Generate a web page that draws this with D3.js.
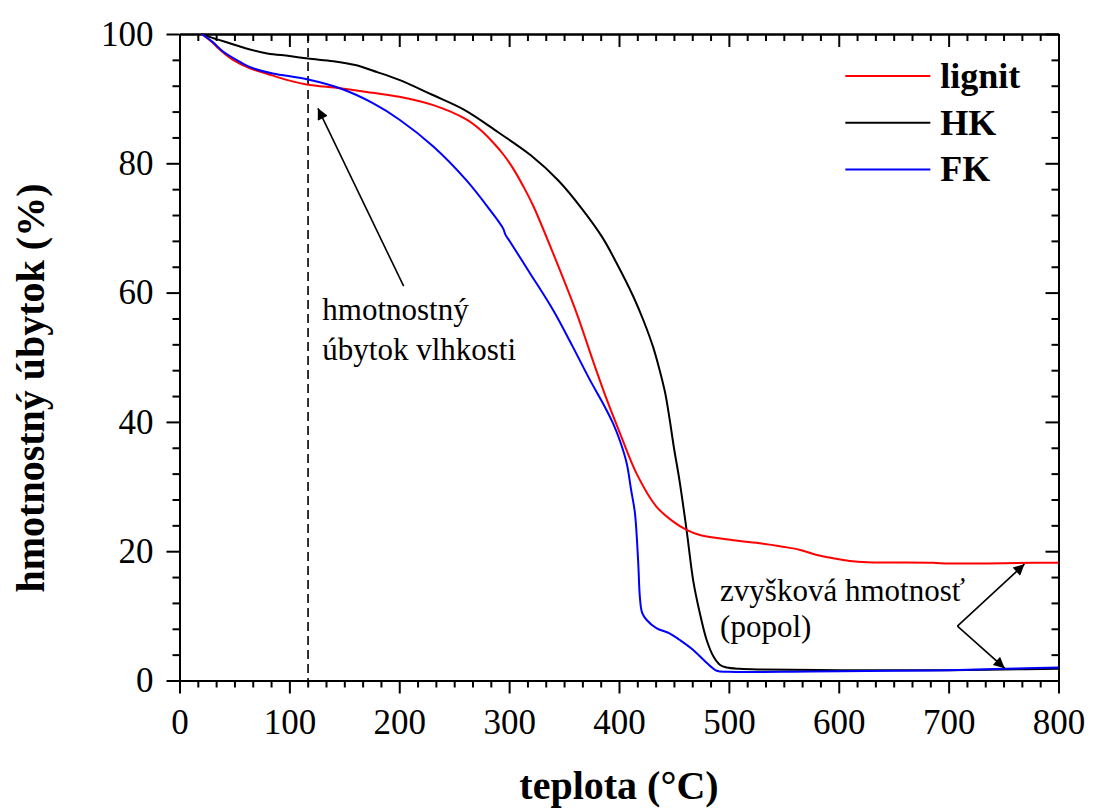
<!DOCTYPE html>
<html lang="sk">
<head>
  <meta charset="UTF-8">
  <title>TGA - hmotnostný úbytok</title>
  <script src="https://d3js.org/d3.v7.min.js"></script>
  <style>
    body {
      margin: 0;
      background-color: #ffffff;
      font-family: "Liberation Serif", "Times New Roman", serif;
    }
    .axis path,
    .axis line {
      stroke: #000;
      stroke-width: 2px;
    }
    .axis text {
      font-family: "Liberation Serif", "Times New Roman", serif;
      font-size: 35px;
      fill: #000;
    }
    .axis-label {
      font-family: "Liberation Serif", "Times New Roman", serif;
      font-size: 40px;
      font-weight: bold;
    }
    .legend-text {
      font-family: "Liberation Serif", "Times New Roman", serif;
      font-size: 36px;
      font-weight: bold;
    }
    .note {
      font-family: "Liberation Serif", "Times New Roman", serif;
      font-size: 31px;
    }
  </style>
</head>
<body>
  <svg width="1094" height="812"></svg>
  <script>
    // Data (temperature °C, mass %)
    const hkTemp = [20, 30, 45, 60, 80, 100, 117, 140, 160, 180, 200, 230, 260, 290, 320, 345, 367, 385, 398, 413, 422, 431, 437, 442, 446, 450, 455, 461.5, 467.5, 473.6, 479.7, 486, 492, 498, 510, 528, 600, 700, 750, 800];
    const hkMass = [100, 99.4, 98.6, 97.8, 97.0, 96.6, 96.2, 95.8, 95.2, 94.1, 92.9, 90.6, 88.2, 84.8, 81.2, 77.3, 72.8, 68.5, 64.5, 59.4, 55.8, 51.6, 48, 44.5, 40.5, 36, 31, 23.3, 15.5, 10.4, 6.3, 3.7, 2.4, 2.0, 1.8, 1.7, 1.6, 1.6, 1.7, 1.8];

    const lignitTemp = [20, 30, 34, 48.7, 64, 79, 97.5, 115.7, 146, 176, 200, 231, 261, 273, 285, 294.6, 304, 313, 322, 340, 361.5, 376, 389, 401, 416, 434, 450, 461.5, 473.6, 504, 530, 549, 565, 580, 595, 610, 626, 686, 700, 777, 800];
    const lignitMass = [100, 98.7, 98.0, 96.0, 94.7, 93.9, 92.9, 92.2, 91.6, 90.9, 90.3, 89.0, 86.8, 85.3, 83.3, 81.4, 79.1, 76.4, 73.4, 66.1, 56.8, 49.6, 43.4, 38.2, 32.0, 26.9, 24.5, 23.3, 22.5, 21.7, 21.2, 20.7, 20.2, 19.4, 18.9, 18.5, 18.3, 18.2, 18.1, 18.2, 18.2];

    const fkTemp = [20, 30, 39.6, 55, 67, 85, 116, 146, 176, 200.6, 231, 261, 282.5, 294.6, 296.5, 300.7, 319, 340, 358, 373.5, 385, 394.5, 401, 407, 411, 414.5, 417.5, 419, 421, 425, 434, 446, 455, 467, 480, 489, 500, 574, 650, 700, 750, 800];
    const fkMass = [100, 98.8, 97.3, 95.7, 94.7, 93.9, 93.0, 91.6, 89.3, 86.7, 82.6, 77.4, 72.8, 69.9, 69.0, 67.9, 63.0, 57.3, 51.6, 46.5, 43.0, 39.8, 37.0, 33.6, 29.5, 25.9, 18.2, 12.9, 10.5, 9.4, 8.1, 7.3, 6.3, 4.8, 2.7, 1.5, 1.35, 1.4, 1.5, 1.6, 1.8, 2.0];

    const seriesNames = ["lignit", "HK", "FK"];
    const seriesColors = ["#ff0000", "#000000", "#0000ff"];

    const xTicks = [0, 100, 200, 300, 400, 500, 600, 700, 800];
    const yTicks = [0, 20, 40, 60, 80, 100];

    const moistureTemp = 117;

    // Layout
    const margin = { top: 34, right: 35.5, bottom: 131.5, left: 179.5 };
    const W = 1094, H = 812;
    const width = W - margin.left - margin.right;
    const height = H - margin.top - margin.bottom;

    const svg = d3.select("svg");

    const defs = svg.append("defs");
    defs.append("marker")
      .attr("id", "arrow")
      .attr("viewBox", "0 0 10 10")
      .attr("refX", 10)
      .attr("refY", 5)
      .attr("markerWidth", 17)
      .attr("markerHeight", 11)
      .attr("markerUnits", "userSpaceOnUse")
      .attr("orient", "auto")
      .append("path")
      .attr("d", "M0,0 L10,5 L0,10 z")
      .attr("fill", "#000");

    const chart = svg.append("g")
      .attr("transform", `translate(${margin.left},${margin.top})`);

    const x = d3.scaleLinear().domain([0, 800]).range([0, width]);
    const y = d3.scaleLinear().domain([0, 100]).range([height, 0]);

    // minor tick positions (5 between x majors, 4 between y majors)
    const xMinor = d3.range(0, 49).map(i => i * 100 / 6).filter((v, i) => i % 6 !== 0);
    const yMinor = d3.range(0, 26).map(i => i * 4).filter(v => v % 20 !== 0);

    // Bottom axis
    chart.append("g")
      .attr("class", "axis")
      .attr("transform", `translate(0,${height})`)
      .call(d3.axisBottom(x).tickValues(xMinor).tickSize(7).tickSizeOuter(0).tickFormat(""));
    chart.append("g")
      .attr("class", "axis")
      .attr("transform", `translate(0,${height})`)
      .call(d3.axisBottom(x).tickValues(xTicks).tickSize(13).tickSizeOuter(0).tickPadding(16).tickFormat(d3.format("d")));

    // Top axis (ticks inside)
    chart.append("g")
      .attr("class", "axis")
      .call(d3.axisTop(x).tickValues(xMinor).tickSize(-7).tickSizeOuter(0).tickFormat(""));
    chart.append("g")
      .attr("class", "axis")
      .call(d3.axisTop(x).tickValues(xTicks).tickSize(-13).tickSizeOuter(0).tickFormat(""));

    // Left axis
    chart.append("g")
      .attr("class", "axis")
      .call(d3.axisLeft(y).tickValues(yMinor).tickSize(7).tickSizeOuter(0).tickFormat(""));
    chart.append("g")
      .attr("class", "axis")
      .call(d3.axisLeft(y).tickValues(yTicks).tickSize(13).tickSizeOuter(0).tickPadding(13).tickFormat(d3.format("d")));

    // Right axis (ticks inside)
    chart.append("g")
      .attr("class", "axis")
      .attr("transform", `translate(${width},0)`)
      .call(d3.axisRight(y).tickValues(yMinor).tickSize(-7).tickSizeOuter(0).tickFormat(""));
    chart.append("g")
      .attr("class", "axis")
      .attr("transform", `translate(${width},0)`)
      .call(d3.axisRight(y).tickValues(yTicks).tickSize(-13).tickSizeOuter(0).tickFormat(""));

    // Dashed moisture line
    chart.append("line")
      .attr("x1", x(moistureTemp)).attr("x2", x(moistureTemp))
      .attr("y1", y(100)).attr("y2", y(0))
      .attr("stroke", "#000")
      .attr("stroke-width", 1.6)
      .attr("stroke-dasharray", "9,5");

    // Curves
    const series = [
      { name: seriesNames[0], color: seriesColors[0], t: lignitTemp, m: lignitMass },
      { name: seriesNames[1], color: seriesColors[1], t: hkTemp, m: hkMass },
      { name: seriesNames[2], color: seriesColors[2], t: fkTemp, m: fkMass }
    ];

    const line = d3.line()
      .x(d => x(d[0]))
      .y(d => y(d[1]))
      .curve(d3.curveCatmullRom.alpha(0.5));

    // black first, then red, blue on top
    [series[1], series[0], series[2]].forEach(s => {
      chart.append("path")
        .datum(s.t.map((t, i) => [t, s.m[i]]))
        .attr("fill", "none")
        .attr("stroke", s.color)
        .attr("stroke-width", 2)
        .attr("d", line);
    });

    // Legend
    const legend = chart.append("g")
      .attr("transform", `translate(${x(606)},${y(93.5)})`);
    series.forEach((s, i) => {
      legend.append("line")
        .attr("x1", 0).attr("x2", 85)
        .attr("y1", i * 46.7).attr("y2", i * 46.7)
        .attr("stroke", s.color)
        .attr("stroke-width", 2);
      legend.append("text")
        .attr("class", "legend-text")
        .attr("x", 95)
        .attr("y", i * 46.7 + 12)
        .text(s.name);
    });

    // Annotation: moisture loss
    chart.append("line")
      .attr("x1", x(204)).attr("y1", y(61))
      .attr("x2", x(126)).attr("y2", y(88.5))
      .attr("stroke", "#000")
      .attr("stroke-width", 1.6)
      .attr("marker-end", "url(#arrow)");
    chart.append("text")
      .attr("class", "note")
      .attr("x", x(130)).attr("y", y(61) + 34)
      .text("hmotnostný");
    chart.append("text")
      .attr("class", "note")
      .attr("x", x(130)).attr("y", y(61) + 74)
      .text("úbytok vlhkosti");

    // Annotation: residual mass (ash)
    const vx = x(708), vy = y(8.4);
    chart.append("line")
      .attr("x1", vx).attr("y1", vy)
      .attr("x2", x(769)).attr("y2", y(18))
      .attr("stroke", "#000").attr("stroke-width", 1.6)
      .attr("marker-end", "url(#arrow)");
    chart.append("line")
      .attr("x1", vx).attr("y1", vy)
      .attr("x2", x(751)).attr("y2", y(1.9))
      .attr("stroke", "#000").attr("stroke-width", 1.6)
      .attr("marker-end", "url(#arrow)");
    chart.append("text")
      .attr("class", "note")
      .attr("x", x(492)).attr("y", y(12.3))
      .text("zvyšková hmotnosť");
    chart.append("text")
      .attr("class", "note")
      .attr("x", x(492)).attr("y", y(6.7))
      .text("(popol)");

    // Axis titles
    svg.append("text")
      .attr("class", "axis-label")
      .attr("x", 619)
      .attr("y", 799)
      .attr("text-anchor", "middle")
      .text("teplota (°C)");

    svg.append("text")
      .attr("class", "axis-label")
      .attr("transform", "translate(44,388) rotate(-90)")
      .attr("text-anchor", "middle")
      .text("hmotnostný úbytok (%)");
  </script>
</body>
</html>
